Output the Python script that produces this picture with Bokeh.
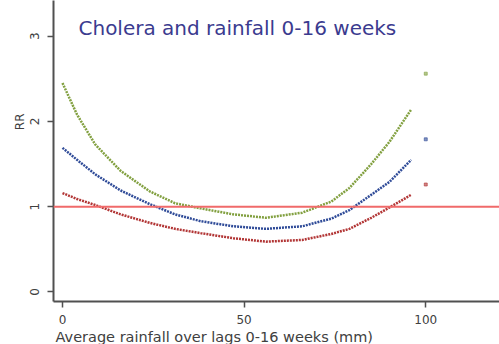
from bokeh.plotting import figure
from bokeh.models import Range1d, FixedTicker, Label, Span, Title
from bokeh.embed import file_html
from bokeh.resources import INLINE

# Data
rain_mm = [0, 4, 9, 16, 24, 31, 38, 47, 56, 66, 74, 79, 85, 90, 96]
rr_upper = [2.45, 2.08, 1.73, 1.42, 1.18, 1.04, 0.98, 0.91, 0.87, 0.93, 1.06, 1.22, 1.50, 1.76, 2.14]
rr_est = [1.69, 1.55, 1.38, 1.19, 1.03, 0.91, 0.83, 0.77, 0.74, 0.77, 0.86, 0.96, 1.14, 1.29, 1.55]
rr_lower = [1.16, 1.09, 1.02, 0.91, 0.81, 0.74, 0.69, 0.63, 0.59, 0.61, 0.68, 0.74, 0.87, 0.99, 1.14]
extra_x = [100]
extra_upper = [2.56]
extra_est = [1.79]
extra_lower = [1.26]
x_ticks = [0, 50, 100]
y_ticks = [0, 1, 2, 3]
reference_rr = 1

title_text = "Cholera and rainfall 0-16 weeks"
x_label = "Average rainfall over lags 0-16 weeks (mm)"
y_label = "RR"

p = figure(width=499, height=344, output_backend="svg", toolbar_location=None,
           x_range=Range1d(-2.48, 120.3), y_range=Range1d(-0.112, 3.418),
           min_border_left=53, min_border_right=0, min_border_top=0, min_border_bottom=0)
p.outline_line_color = None
p.xgrid.visible = False
p.ygrid.visible = False
p.background_fill_color = "white"
p.border_fill_color = "white"

font = "DejaVu Sans"
for ax in (p.xaxis[0], p.yaxis[0]):
    ax.axis_line_color = "#505050"
    ax.axis_line_width = 2
    ax.major_tick_line_color = "#505050"
    ax.major_tick_line_width = 1.5
    ax.major_tick_out = 6
    ax.major_tick_in = 0
    ax.minor_tick_line_color = None
    ax.major_label_text_font = font
    ax.major_label_text_font_size = "12px"
    ax.major_label_text_color = "#404040"

p.xaxis.ticker = FixedTicker(ticks=x_ticks)
p.yaxis.ticker = FixedTicker(ticks=y_ticks)
p.yaxis.major_label_orientation = "vertical"
p.xaxis.major_label_standoff = 7
p.yaxis.major_label_standoff = 8

p.add_layout(Title(text=y_label, align="right", offset=113, standoff=2,
                   text_font=font, text_font_size="12px", text_font_style="normal",
                   text_color="#404040"), "left")
p.add_layout(Title(text=x_label, align="left", offset=2, standoff=0,
                   text_font=font, text_font_size="14.5px", text_font_style="normal",
                   text_color="#404040"), "below")

p.add_layout(Span(location=reference_rr, dimension="width", line_color="#f06a6a", line_width=2))

colors = {"up": "#82a040", "est": "#2f4b98", "low": "#b23636"}
p.line(rain_mm, rr_upper, line_color=colors["up"], line_width=2.5, line_dash="2 1")
p.line(rain_mm, rr_est, line_color=colors["est"], line_width=2.5, line_dash="2 1")
p.line(rain_mm, rr_lower, line_color=colors["low"], line_width=2.5, line_dash="2 1")
p.scatter(extra_x, extra_upper, marker="square", size=3, color=colors["up"], alpha=0.6)
p.scatter(extra_x, extra_est, marker="square", size=3, color=colors["est"], alpha=0.6)
p.scatter(extra_x, extra_lower, marker="square", size=3, color=colors["low"], alpha=0.6)

p.add_layout(Label(x=4.4, y=3.09, text=title_text, text_font=font, text_font_size="20px",
                   text_color="#3b3b8f", text_baseline="middle"))

open("out.html", "w").write(file_html(p, INLINE))
